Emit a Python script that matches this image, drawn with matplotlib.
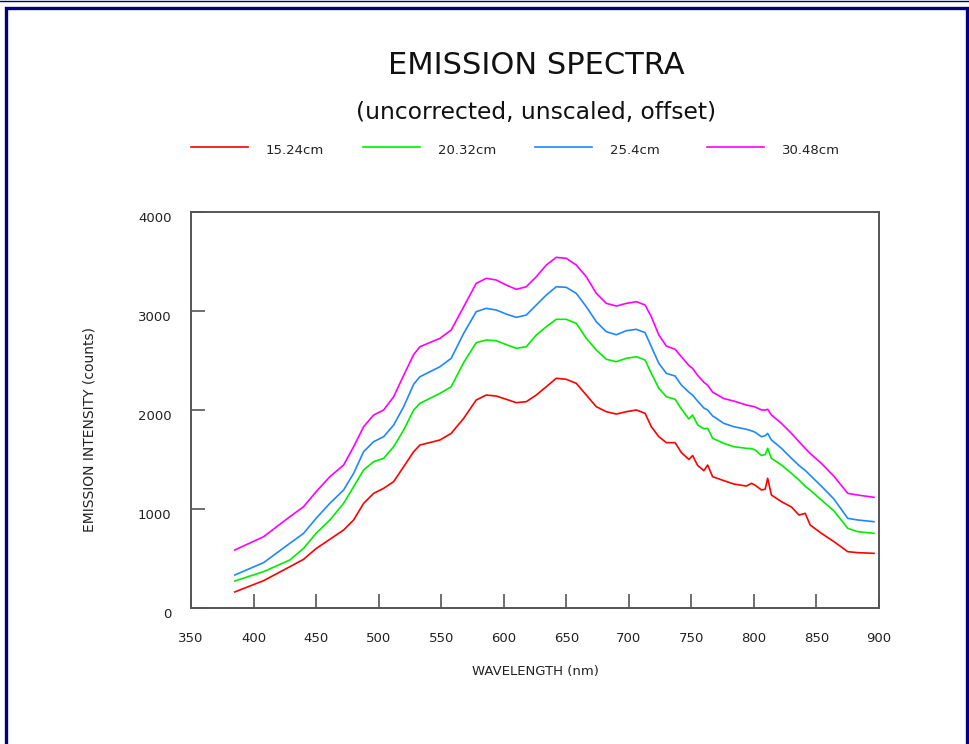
import matplotlib
matplotlib.use("Agg")
import matplotlib.pyplot as plt
from matplotlib.patches import Rectangle
from matplotlib.lines import Line2D

wavelength = [385, 408, 429, 440, 450, 461, 472, 480, 488, 496, 504, 512, 520, 528, 533,
              549, 558, 568, 578, 586, 594, 602, 610, 618, 626, 634, 642, 650, 658, 666,
              674, 682, 690, 698, 706, 713, 718, 724, 730, 737, 742, 748, 751, 755, 760,
              763, 767, 776, 784, 794, 798, 801, 806, 809, 811, 814, 822, 830, 836, 841,
              845, 854, 864, 875, 883, 896]

red = [162, 276, 417, 492, 600, 694, 788, 889, 1057, 1158, 1209, 1276, 1427, 1579, 1646,
       1697, 1764, 1916, 2101, 2151, 2141, 2108, 2074, 2084, 2151, 2235, 2320, 2310, 2269, 2151,
       2033, 1983, 1959, 1983, 2000, 1966, 1831, 1730, 1670, 1670, 1570, 1500, 1540, 1440, 1387,
       1444, 1326, 1286, 1252, 1232, 1260, 1240, 1192, 1200, 1310, 1141, 1074, 1020, 939, 956,
       838, 754, 670, 569, 559, 552]

green = [273, 367, 485, 603, 754, 889, 1057, 1225, 1394, 1478, 1512, 1629, 1798, 2000, 2067,
         2168, 2235, 2480, 2680, 2707, 2700, 2660, 2623, 2639, 2757, 2841, 2916, 2916, 2875, 2724,
         2606, 2512, 2488, 2522, 2538, 2505, 2370, 2219, 2134, 2108, 2010, 1910, 1949, 1850, 1810,
         1815, 1714, 1663, 1629, 1613, 1610, 1596, 1540, 1550, 1613, 1512, 1444, 1360, 1293, 1230,
         1190, 1090, 980, 805, 771, 754]

blue = [333, 458, 653, 754, 906, 1057, 1192, 1360, 1579, 1680, 1730, 1848, 2033, 2260, 2336,
        2437, 2522, 2774, 2993, 3027, 3010, 2969, 2936, 2959, 3060, 3161, 3245, 3239, 3178, 3043,
        2892, 2791, 2760, 2801, 2815, 2781, 2639, 2471, 2370, 2343, 2252, 2180, 2150, 2090, 2020,
        2000, 1940, 1865, 1831, 1805, 1790, 1775, 1730, 1740, 1764, 1697, 1613, 1512, 1440, 1390,
        1340, 1230, 1100, 906, 889, 872]

magenta = [586, 720, 922, 1023, 1175, 1326, 1444, 1629, 1831, 1949, 2000, 2134, 2350, 2560, 2639,
           2724, 2808, 3043, 3279, 3330, 3313, 3262, 3219, 3245, 3346, 3464, 3542, 3532, 3464, 3346,
           3178, 3077, 3050, 3077, 3094, 3060, 2942, 2757, 2646, 2613, 2538, 2450, 2420, 2350, 2280,
           2250, 2180, 2115, 2090, 2050, 2040, 2030, 2000, 2000, 2007, 1949, 1865, 1764, 1680, 1613,
           1560, 1460, 1330, 1158, 1141, 1118]

labels = ["15.24cm", "20.32cm", "25.4cm", "30.48cm"]
colors = ["#ff0000", "#00ee00", "#1e88ff", "#ff00ff"]
x_ticks = [350, 400, 450, 500, 550, 600, 650, 700, 750, 800, 850, 900]
y_ticks = [0, 1000, 2000, 3000, 4000]

W, H = 970, 744
fig = plt.figure(figsize=(W / 100, H / 100), dpi=100)

# navy page frame
fig.add_artist(Line2D([0, 968 / W], [1 - 0.5 / H, 1 - 0.5 / H], color="#000080", lw=1,
                      transform=fig.transFigure))
fig.add_artist(Rectangle((6.5 / W, -0.05), 961 / W, 1.05 - 7.5 / H, fill=False,
                         edgecolor="#000080", lw=2.4, transform=fig.transFigure))

ax = fig.add_axes([191 / W, 1 - 608 / H, 688 / W, 396 / H])
series = [red, green, blue, magenta]
for vals, col in zip(series, colors):
    ax.plot(wavelength, vals, color=col, lw=1.2)

ax.set_xlim(350, 900)
ax.set_ylim(0, 4000)
ax.set_xticks(x_ticks)
ax.set_yticks(y_ticks)
ax.tick_params(direction="in", length=10, width=1.2, color="#555555",
               labelsize=9.5, labelcolor="#222222")
ax.tick_params(axis="x", pad=17)
ax.tick_params(axis="y", pad=14)
for lbl in ax.get_yticklabels():
    lbl.set_verticalalignment("top")
for s in ax.spines.values():
    s.set_color("#555555")
    s.set_linewidth(1.4)

ax.set_xlabel("WAVELENGTH (nm)", fontsize=9.5, color="#222222", labelpad=15)
ax.set_ylabel("EMISSION INTENSITY (counts)", fontsize=10, color="#222222")
ax.yaxis.set_label_coords(-0.137, 0.45)

fig.text(536 / W, 1 - 66 / H, "EMISSION SPECTRA", ha="center", va="center",
         fontsize=22, color="#111111")
fig.text(536 / W, 1 - 112 / H, "(uncorrected, unscaled, offset)", ha="center", va="center",
         fontsize=16.8, color="#111111")

# legend row
for i, (lab, col) in enumerate(zip(labels, colors)):
    x0 = 191 + i * 172
    fig.add_artist(Line2D([x0 / W, (x0 + 57) / W], [1 - 147 / H, 1 - 147 / H], color=col,
                          lw=1.2, transform=fig.transFigure))
    fig.text((x0 + 75) / W, 1 - 151 / H, lab, ha="left", va="center", fontsize=9.5,
             color="#222222")

fig.savefig("out.png", dpi=100)
